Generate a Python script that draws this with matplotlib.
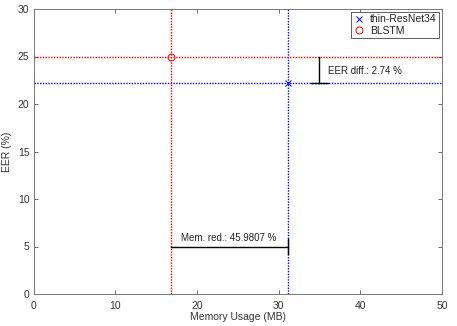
import matplotlib
matplotlib.use("Agg")
import matplotlib.pyplot as plt

plt.rcParams['font.family'] = ['Liberation Sans', 'DejaVu Sans']

models = ["thin-ResNet34", "BLSTM"]
memory_mb = [31.1, 16.8]
eer_pct = [22.2, 24.94]
colors = ["#0000ff", "#ff0000"]
markers = ["x", "o"]
eer_diff_label = "EER diff.: 2.74 %"
mem_red_label = "Mem. red.: 45.9807 %"
mem_arrow_y = 5.0
eer_arrow_x = 35.0

fig = plt.figure(figsize=(4.57, 3.26), dpi=100)
ax = fig.add_axes([33.5 / 457, 1 - 294 / 326, (442 - 33.5) / 457, (294 - 9) / 326])

for m, e, c, mk, name in zip(memory_mb, eer_pct, colors, markers, models):
    ax.plot([m, m], [0, 30], color=c, linestyle=(0, (1, 1)), linewidth=1.0)
    ax.plot([0, 50], [e, e], color=c, linestyle=(0, (1, 1)), linewidth=1.0)
    ax.plot([m], [e], linestyle='none', marker=mk, color=c, markersize=5,
            markerfacecolor='none', markeredgewidth=0.7, label=name)

# EER diff annotation
ax.plot([eer_arrow_x, eer_arrow_x], [eer_pct[0], eer_pct[1]], color='k', linewidth=1.0)
ax.plot([eer_arrow_x - 1.0, eer_arrow_x + 1.0], [eer_pct[0], eer_pct[0]], color='k', linewidth=1.0)
ax.text(eer_arrow_x + 1.1, (eer_pct[0] + eer_pct[1]) / 2 - 0.1, eer_diff_label,
        fontsize=7, va='center', ha='left', color='#222222')

# Memory reduction annotation
ax.plot([memory_mb[1], memory_mb[0]], [mem_arrow_y, mem_arrow_y], color='k', linewidth=1.0)
ax.plot([memory_mb[0], memory_mb[0]], [mem_arrow_y - 0.8, mem_arrow_y + 0.8], color='k', linewidth=1.0)
ax.text((memory_mb[0] + memory_mb[1]) / 2, mem_arrow_y + 0.35, mem_red_label,
        fontsize=7, va='bottom', ha='center', color='#222222')

ax.set_xlim(0, 50)
ax.set_ylim(0, 30)
ax.set_xticks(range(0, 51, 10))
ax.set_yticks(range(0, 31, 5))
ax.set_xlabel("Memory Usage (MB)", fontsize=7.5, color='#333333', labelpad=1)
ax.set_ylabel("EER (%)", fontsize=7.5, color='#333333', labelpad=4)
ax.tick_params(direction='in', top=True, right=True, labelsize=7.5,
               labelcolor='#333333', color='#555555', length=3, width=0.6)
ax.tick_params(axis='x', pad=5)
ax.tick_params(axis='y', pad=3)
for s in ax.spines.values():
    s.set_color('#777777')
    s.set_linewidth(0.7)

leg = ax.legend(loc='upper right', fontsize=7.5, frameon=True, fancybox=False,
                borderpad=0.25, handletextpad=0.5, handlelength=1.1,
                borderaxespad=0.25, labelspacing=0.15, framealpha=1)
leg.get_frame().set_edgecolor('#444444')
leg.get_frame().set_linewidth(0.6)
for t in leg.get_texts():
    t.set_color('#222222')

fig.savefig("out.png", dpi=100)
